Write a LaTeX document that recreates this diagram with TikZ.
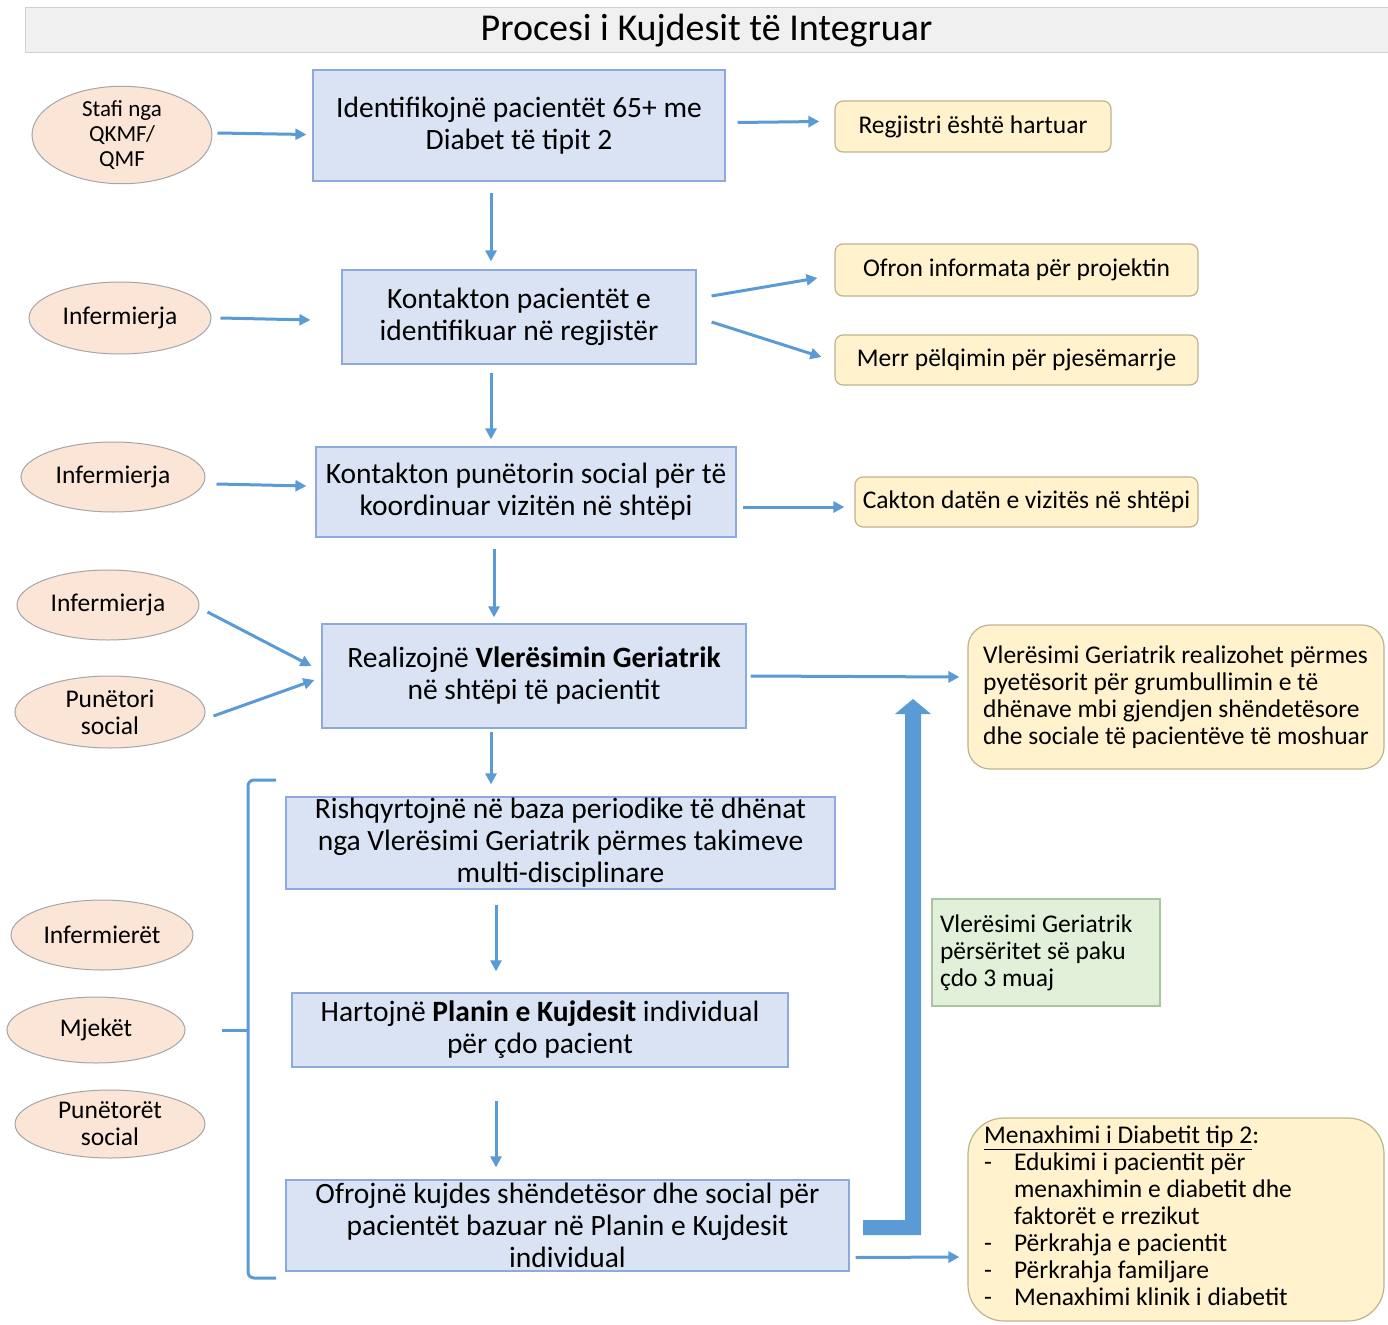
\documentclass[tikz,border=0pt]{standalone}
\usepackage{fontspec}
\setmainfont{Carlito}
\usetikzlibrary{shapes.geometric,arrows.meta,calc}
\definecolor{boxfill}{HTML}{DAE3F3}
\definecolor{boxdraw}{HTML}{8EA9DB}
\definecolor{peach}{HTML}{FBE5D6}
\definecolor{peachdraw}{HTML}{A6A6A6}
\definecolor{yfill}{HTML}{FFF2CC}
\definecolor{ydraw}{HTML}{BFB38F}
\definecolor{gfill}{HTML}{E2F0D9}
\definecolor{gdraw}{HTML}{A9C4A0}
\definecolor{arrc}{HTML}{5B9BD5}
\definecolor{titlefill}{HTML}{F0F0F0}
\definecolor{titledraw}{HTML}{D0D0D0}
\tikzset{
  pbox/.style={draw=boxdraw, fill=boxfill, line width=1.2pt, inner sep=0pt, align=center, font=\fontsize{29.5}{32}\selectfont},
  ell/.style={ellipse, draw=peachdraw, fill=peach, line width=1pt, inner sep=0pt, align=center, font=\fontsize{25.5}{27}\selectfont},
  ybox/.style={draw=ydraw, fill=yfill, line width=1.2pt, rounded corners=8pt, inner sep=0pt, align=center, font=\fontsize{25.5}{27}\selectfont},
  gbox/.style={draw=gdraw, fill=gfill, line width=1.2pt, inner sep=0pt, align=left, font=\fontsize{25.5}{27}\selectfont},
  arr/.style={draw=arrc, line width=3pt, -{Triangle[length=11pt,width=11pt]}},
}
\begin{document}
\begin{tikzpicture}[x=1pt,y=-1pt]
\useasboundingbox (0,0) rectangle (1388,1324);
% title
\node[draw=titledraw, fill=titlefill, line width=1pt, minimum width=1363pt, minimum height=45pt, inner sep=0pt, font=\fontsize{38}{40}\selectfont] (title) at (706.5,30.5) {\raisebox{-4pt}{Procesi i Kujdesit të Integruar}};
% main boxes
\node[pbox, minimum width=412pt, minimum height=111pt] (b1) at (519,125.5) {Identifikojnë pacientët 65+ me\\Diabet të tipit 2};
\node[pbox, minimum width=354pt, minimum height=94pt] (b2) at (519,317) {Kontakton pacientët e\\identifikuar në regjistër};
\node[pbox, minimum width=420pt, minimum height=90pt] (b3) at (526,492) {Kontakton punëtorin social për të\\koordinuar vizitën në shtëpi};
\node[pbox, minimum width=424pt, minimum height=104pt] (b4) at (534,676) {Realizojnë \textbf{Vlerësimin Geriatrik}\\në shtëpi të pacientit};
\node[pbox, minimum width=549pt, minimum height=92pt] (b5) at (560.5,843) {Rishqyrtojnë në baza periodike të dhënat\\nga Vlerësimi Geriatrik përmes takimeve\\multi-disciplinare};
\node[pbox, minimum width=496pt, minimum height=74pt] (b6) at (540,1030) {Hartojnë \textbf{Planin e Kujdesit} individual\\për çdo pacient};
\node[pbox, minimum width=563pt, minimum height=91pt] (b7) at (567.5,1225.5) {Ofrojnë kujdes shëndetësor dhe social për\\pacientët bazuar në Planin e Kujdesit\\individual};
% ellipses
\node[ell, minimum width=180pt, minimum height=80pt, font=\fontsize{23}{25}\selectfont] (e1) at (122,135) {Stafi nga\\QKMF/\\QMF};
\node[ell, minimum width=182pt, minimum height=72pt] (e2) at (120,318) {Infermierja};
\node[ell, minimum width=184pt, minimum height=70pt] (e3) at (113,477) {Infermierja};
\node[ell, minimum width=182pt, minimum height=70pt] (e4) at (108,605) {Infermierja};
\node[ell, minimum width=190pt, minimum height=72pt] (e5) at (110,712) {Punëtori\\social};
\node[ell, minimum width=182pt, minimum height=70pt] (e6) at (102,935) {Infermierët};
\node[ell, minimum width=178pt, minimum height=66pt] (e7) at (96,1030) {Mjekët};
\node[ell, minimum width=190pt, minimum height=68pt] (e8) at (110,1124) {Punëtorët\\social};
% yellow boxes
\node[ybox, minimum width=276pt, minimum height=51pt] (y1) at (973,126.5) {Regjistri është hartuar};
\node[ybox, minimum width=363pt, minimum height=52pt] (y2) at (1016.5,270) {Ofron informata për projektin};
\node[ybox, minimum width=363pt, minimum height=50pt] (y3) at (1016.5,360) {Merr pëlqimin për pjesëmarrje};
\node[ybox, minimum width=343pt, minimum height=50pt] (y4) at (1026.5,502) {Cakton datën e vizitës në shtëpi};
\node[ybox, rounded corners=22pt, minimum width=416pt, minimum height=144pt, align=left] (y5) at (1176,697) {Vlerësimi Geriatrik realizohet përmes\\pyetësorit për grumbullimin e të\\dhënave mbi gjendjen shëndetësore\\dhe sociale të pacientëve të moshuar};
\node[ybox, rounded corners=36pt, minimum width=416pt, minimum height=203pt, text width=384pt, align=left] (y6) at (1176,1219.5) {\spaceskip=0pt\xspaceskip=0pt\raisebox{-6pt}{\begin{tabular}{@{}p{30pt}@{}l@{}}
\multicolumn{2}{@{}l@{}}{\underline{Menaxhimi i Diabetit tip 2}:}\\
- & Edukimi i pacientit për\\
 & menaxhimin e diabetit dhe\\
 & faktorët e rrezikut\\
- & Përkrahja e pacientit\\
- & Përkrahja familjare\\
- & Menaxhimi klinik i diabetit
\end{tabular}}};
% green box
\node[gbox, minimum width=228pt, minimum height=107pt, text width=212pt] (g1) at (1046,952.5) {\spaceskip=0pt\xspaceskip=0pt Vlerësimi Geriatrik\\përsëritet së paku\\çdo 3 muaj};
% arrows: left ellipses to boxes
\draw[arr] ([shift={(5,-2)}]e1.east) -- ([shift={(-6,9)}]b1.west);
\draw[arr] ([shift={(9,0)}]e2.east) -- ([shift={(-31,3)}]b2.west);
\draw[arr] ([shift={(11,7)}]e3.east) -- ([shift={(-9,-6)}]b3.west);
\draw[arr] ([shift={(8,7)}]e4.east) -- ([shift={(-10,-10)}]b4.west);
\draw[arr] ([shift={(8,4)}]e5.east) -- ([shift={(-7,4)}]b4.west);
% arrows: boxes to yellow
\draw[arr] ([shift={(12,-3)}]b1.east) -- ([shift={(-15,-5)}]y1.west);
\draw[arr] ([shift={(15,-21)}]b2.east) -- ([shift={(-17,8)}]y2.west);
\draw[arr] ([shift={(15,5)}]b2.east) -- ([shift={(-13,-3)}]y3.west);
\draw[arr] ([shift={(6,15)}]b3.east) -- ([shift={(-10,5)}]y4.west);
\draw[arr] ([shift={(4,0)}]b4.east) -- ([shift={(-8,-20)}]y5.west);
\draw[arr] ([shift={(6,32)}]b7.east) -- ([shift={(-8,37.5)}]y6.west);
% vertical arrows
\draw[arr] ([shift={(-28,11)}]b1.south) -- ([shift={(-28,-8)}]b2.north);
\draw[arr] ([shift={(-28,8)}]b2.south) -- ([shift={(-35,-7)}]b3.north);
\draw[arr] ([shift={(-32,11)}]b3.south) -- ([shift={(-40,-6)}]b4.north);
\draw[arr] ([shift={(-43,3)}]b4.south) -- ([shift={(-69.5,-12)}]b5.north);
\draw[arr] ([shift={(-64.5,15)}]b5.south) -- ([shift={(-44,-21)}]b6.north);
\draw[arr] ([shift={(-44,33)}]b6.south) -- ([shift={(-71.5,-12)}]b7.north);
% bracket
\coordinate (brtop) at (276,780);
\coordinate (brbot) at (276,1278);
\coordinate (brmid) at (222,1030);
\draw[arrc, line width=3pt, rounded corners=6pt] (brtop) -- ++(-28,0) -- (248,1278) -- (brbot);
\draw[arrc, line width=3pt] (brmid) -- (248,1030);
% thick return arrow
\fill[arrc] (863,1220) -- (905,1220) -- (905,714) -- (895,714) -- (913,699) -- (931,714) -- (921,714) -- (921,1235) -- (863,1235) -- cycle;
\end{tikzpicture}
\end{document}
